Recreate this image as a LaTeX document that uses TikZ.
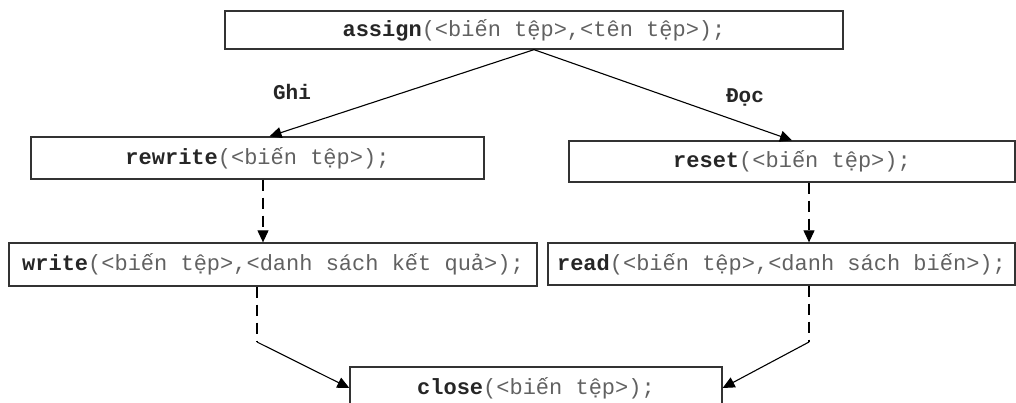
\documentclass[tikz,border=0pt]{standalone}
\usepackage{fontspec}
\setmonofont{Liberation Mono}
\usetikzlibrary{arrows.meta}

\newcommand{\proc}[2]{\textbf{\color{black!85}#1}\textcolor{black!62}{#2}}

\begin{document}
\begin{tikzpicture}[x=1pt,y=-1pt,
        box/.style={draw=black!80,line width=1.3pt,inner sep=0pt,
          font=\ttfamily\fontsize{22}{26}\selectfont},
        lbl/.style={font=\ttfamily\bfseries\fontsize{21}{25}\selectfont,text=black!85},
        arr/.style={line width=1.1pt,-{Triangle[length=12pt,width=11pt]}},
        dsh/.style={line width=1.1pt,dash pattern=on 11pt off 7pt}]
        \useasboundingbox (0,0) rectangle (1016,402);

        \node[box,minimum width=618pt,minimum height=38pt] (assign) at (534,30)
          {\proc{assign}{(<biến tệp>,<tên tệp>);}};

        \node[box,minimum width=453pt,minimum height=42pt] (rewrite) at (257.5,158)
          {\proc{rewrite}{(<biến tệp>);}};
        \node[box,minimum width=446pt,minimum height=41pt] (reset) at (792,161.5)
          {\proc{reset}{(<biến tệp>);}};

        \node[box,minimum width=528pt,minimum height=43pt] (write) at (273,264.5)
          {\proc{write}{(<biến tệp>,<danh sách kết quả>);}};
        \node[box,minimum width=467pt,minimum height=42pt] (read) at (781.5,264)
          {\proc{read}{(<biến tệp>,<danh sách biến>);}};

        \node[box,minimum width=372pt,minimum height=42pt] (close) at (536,388)
          {\proc{close}{(<biến tệp>);}};

        \node[lbl] (ghi) at (292,92) {Ghi};
        \node[lbl] (doc) at (745,97) {Đọc};

        \coordinate (wturn) at (257,342);
        \coordinate (rturn) at (809,342);

        \draw[arr] (assign.south) -- ([xshift=12pt]rewrite.north);
        \draw[arr] (assign.south) -- (reset.north);

        \draw[dsh,arr] ([xshift=5.5pt]rewrite.south) -- ([xshift=5.5pt]rewrite.south |- write.north);
        \draw[dsh,arr] ([xshift=17pt]reset.south) -- ([xshift=17pt]reset.south |- read.north);

        \draw[dsh] (wturn |- write.south) -- (wturn);
        \draw[dsh] (rturn |- read.south) -- (rturn);
        \draw[arr] (wturn) -- (close.west);
        \draw[arr] (rturn) -- (close.east);

    \end{tikzpicture}
\end{document}
